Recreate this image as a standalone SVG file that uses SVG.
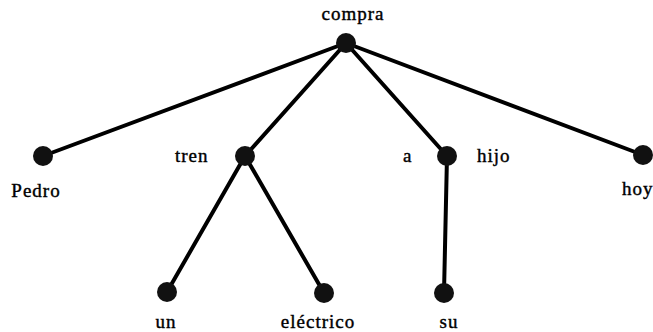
<svg xmlns="http://www.w3.org/2000/svg" width="653" height="332" viewBox="0 0 653 332">
<style>
.e{stroke:#000;stroke-width:4;stroke-linecap:round;fill:none}
.n{fill:#111}
.t{font-family:"Liberation Serif","Times New Roman",serif;font-size:19px;letter-spacing:1px;fill:#000;stroke:#000;stroke-width:0.4}
.m{text-anchor:middle}
</style>
<rect width="653" height="332" fill="#fff"/>
<g id="edges">
<line class="e" x1="346" y1="43" x2="43" y2="156"/>
<line class="e" x1="346" y1="43" x2="245" y2="156"/>
<line class="e" x1="346" y1="43" x2="447" y2="156"/>
<line class="e" x1="346" y1="43" x2="643" y2="155"/>
<line class="e" x1="245" y1="156" x2="167" y2="292"/>
<line class="e" x1="245" y1="156" x2="324" y2="293"/>
<line class="e" x1="447" y1="156" x2="444" y2="293"/>
</g>
<g id="compra"><circle class="n" cx="346" cy="43" r="10"/><text class="t m" x="353" y="20">compra</text></g>
<g id="pedro"><circle class="n" cx="43" cy="156" r="10"/><text class="t m" x="36" y="197">Pedro</text></g>
<g id="tren"><circle class="n" cx="245" cy="156" r="10"/><text class="t" x="175" y="162">tren</text></g>
<g id="a"><circle class="n" cx="447" cy="156" r="10"/><text class="t" x="403" y="162">a</text><text class="t" x="477" y="162">hijo</text></g>
<g id="hoy"><circle class="n" cx="643" cy="155" r="10"/><text class="t" x="622" y="195">hoy</text></g>
<g id="un"><circle class="n" cx="167" cy="292" r="10"/><text class="t m" x="166" y="328">un</text></g>
<g id="electrico"><circle class="n" cx="324" cy="293" r="10"/><text class="t m" x="318" y="328">eléctrico</text></g>
<g id="su"><circle class="n" cx="444" cy="293" r="10"/><text class="t m" x="449" y="328">su</text></g>
</svg>
